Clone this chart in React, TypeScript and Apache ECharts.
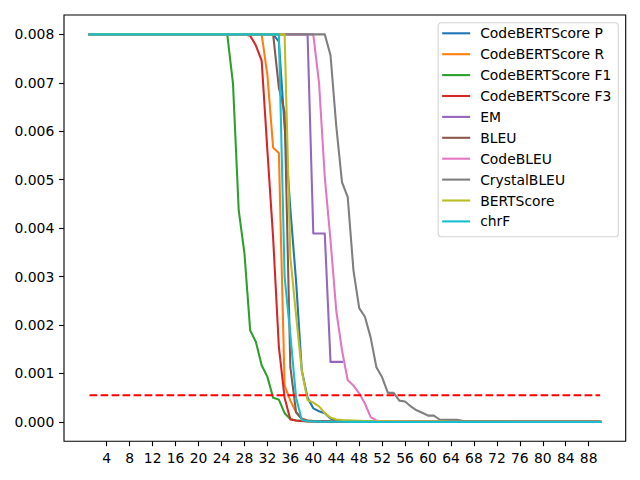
import React, { useEffect, useRef } from "react";
import * as echarts from "echarts";

const SERIES_NAMES = [
  "CodeBERTScore P",
  "CodeBERTScore R",
  "CodeBERTScore F1",
  "CodeBERTScore F3",
  "EM",
  "BLEU",
  "CodeBLEU",
  "CrystalBLEU",
  "BERTScore",
  "chrF",
];

const COLORS = [
  "#1f77b4", "#ff7f0e", "#2ca02c", "#d62728", "#9467bd",
  "#8c564b", "#e377c2", "#7f7f7f", "#bcbd22", "#17becf",
];

const X_TICKS = [4, 8, 12, 16, 20, 24, 28, 32, 36, 40, 44, 48, 52, 56, 60, 64, 68, 72, 76, 80, 84, 88];
const Y_TICKS = [0, 0.001, 0.002, 0.003, 0.004, 0.005, 0.006, 0.007, 0.008];
const THRESHOLD = 0.00055;

// values for x = 1, 2, 3, ...
const CODEBERT_P = [
  0.008, 0.008, 0.008, 0.008, 0.008, 0.008, 0.008, 0.008, 0.008, 0.008,
  0.008, 0.008, 0.008, 0.008, 0.008, 0.008, 0.008, 0.008, 0.008, 0.008,
  0.008, 0.008, 0.008, 0.008, 0.008, 0.008, 0.008, 0.008, 0.008, 0.008,
  0.008, 0.008, 0.008, 0.00785, 0.0061, 0.0044, 0.0029, 0.00106, 0.0005, 0.00028,
  0.00022, 0.00018, 0.00007, 0.00003, 0.00002, 0.000015, 0.000012, 0.00001, 0.00001, 0.000008,
  0.000007, 0.000006, 0.000005, 0.000005, 0.000004, 0.000004, 0.000003, 0.000003, 0.000003, 0.000002,
  0.000002, 0.000002, 0.000002, 0.000002, 0.000002, 0.000002, 0.000002, 0.000001, 0.000001, 0.000001,
  0.000001, 0.000001, 0.000001, 0.000001, 0.000001, 0.000001, 0.000001, 0.000001, 0.000001, 0.000001,
  0.000001, 0.000001, 0.000001, 0.000001, 0.000001, 0.000001, 0.000001, 0.000001, 0.000001, 0.000001,
];

const CODEBERT_R = [
  0.008, 0.008, 0.008, 0.008, 0.008, 0.008, 0.008, 0.008, 0.008, 0.008,
  0.008, 0.008, 0.008, 0.008, 0.008, 0.008, 0.008, 0.008, 0.008, 0.008,
  0.008, 0.008, 0.008, 0.008, 0.008, 0.008, 0.008, 0.008, 0.008, 0.008,
  0.008, 0.00716, 0.00566, 0.00555, 0.00075, 0.00044, 0.0002, 0.00007, 0.00003, 0.00002,
  0.000015, 0.000012, 0.00001, 0.000008, 0.000007, 0.000006, 0.000005, 0.000005, 0.000004, 0.000004,
  0.000003, 0.000003, 0.000003, 0.000003, 0.000003, 0.000002, 0.000002, 0.000002, 0.000002, 0.000002,
  0.000001, 0.000001, 0.000001, 0.000001, 0.000001, 0.000001, 0.000001, 0.000001, 0.000001, 0.000001,
  0.000001, 0.000001, 0.000001, 0.000001, 0.000001, 0.000001, 0.000001, 0.000001, 0.000001, 0.000001,
  0.000001, 0.000001, 0.000001, 0.000001, 0.000001, 0.000001, 0.000001, 0.000001, 0.000001, 0.000001,
];

const CODEBERT_F1 = [
  0.008, 0.008, 0.008, 0.008, 0.008, 0.008, 0.008, 0.008, 0.008, 0.008,
  0.008, 0.008, 0.008, 0.008, 0.008, 0.008, 0.008, 0.008, 0.008, 0.008,
  0.008, 0.008, 0.008, 0.008, 0.008, 0.00699, 0.00437, 0.00348, 0.00189, 0.00165,
  0.00117, 0.00093, 0.0005, 0.00046, 0.00018, 0.00006, 0.00003, 0.00002, 0.00001, 0.000008,
  0.000006, 0.000005, 0.000004, 0.000004, 0.000003, 0.000003, 0.000003, 0.000002, 0.000002, 0.000002,
  0.000002, 0.000002, 0.000001, 0.000001, 0.000001, 0.000001, 0.000001, 0.000001, 0.000001, 0.000001,
  0.000001, 0.000001, 0.000001, 0.000001, 0.000001, 0.000001, 0.000001, 0.000001, 0.000001, 0.000001,
  0.000001, 0.000001, 0.000001, 0.000001, 0.000001, 0.000001, 0.000001, 0.000001, 0.000001, 0.000001,
  0.000001, 0.000001, 0.000001, 0.000001, 0.000001, 0.000001, 0.000001, 0.000001, 0.000001, 0.000001,
];

const CODEBERT_F3 = [
  0.008, 0.008, 0.008, 0.008, 0.008, 0.008, 0.008, 0.008, 0.008, 0.008,
  0.008, 0.008, 0.008, 0.008, 0.008, 0.008, 0.008, 0.008, 0.008, 0.008,
  0.008, 0.008, 0.008, 0.008, 0.008, 0.008, 0.008, 0.008, 0.00797, 0.00777,
  0.00746, 0.0056, 0.0038, 0.00155, 0.0005, 0.00005, 0.00003, 0.00002, 0.000015, 0.00001,
  0.000008, 0.000006, 0.000005, 0.000004, 0.000004, 0.000003, 0.000003, 0.000003, 0.000002, 0.000002,
  0.000002, 0.000002, 0.000002, 0.000001, 0.000001, 0.000001, 0.000001, 0.000001, 0.000001, 0.000001,
  0.000001, 0.000001, 0.000001, 0.000001, 0.000001, 0.000001, 0.000001, 0.000001, 0.000001, 0.000001,
  0.000001, 0.000001, 0.000001, 0.000001, 0.000001, 0.000001, 0.000001, 0.000001, 0.000001, 0.000001,
  0.000001, 0.000001, 0.000001, 0.000001, 0.000001, 0.000001, 0.000001, 0.000001, 0.000001, 0.000001,
];

const EM = [
  0.008, 0.008, 0.008, 0.008, 0.008, 0.008, 0.008, 0.008, 0.008, 0.008,
  0.008, 0.008, 0.008, 0.008, 0.008, 0.008, 0.008, 0.008, 0.008, 0.008,
  0.008, 0.008, 0.008, 0.008, 0.008, 0.008, 0.008, 0.008, 0.008, 0.008,
  0.008, 0.008, 0.008, 0.008, 0.008, 0.008, 0.008, 0.008, 0.008, 0.00389,
  0.00389, 0.00389, 0.00124, 0.00124, 0.00124,
];

const BLEU = [
  0.008, 0.008, 0.008, 0.008, 0.008, 0.008, 0.008, 0.008, 0.008, 0.008,
  0.008, 0.008, 0.008, 0.008, 0.008, 0.008, 0.008, 0.008, 0.008, 0.008,
  0.008, 0.008, 0.008, 0.008, 0.008, 0.008, 0.008, 0.008, 0.008, 0.008,
  0.008, 0.008, 0.008, 0.0069, 0.0064, 0.00113, 0.0002, 0.00006, 0.00003, 0.00002,
  0.000015, 0.000012, 0.00001, 0.000008, 0.000007, 0.000006, 0.000005, 0.000004, 0.000004, 0.000003,
  0.000003, 0.000003, 0.000002, 0.000002, 0.000002, 0.000002, 0.000002, 0.000001, 0.000001, 0.000001,
  0.000001, 0.000001, 0.000001, 0.000001, 0.000001, 0.000001, 0.000001, 0.000001, 0.000001, 0.000001,
  0.000001, 0.000001, 0.000001, 0.000001, 0.000001, 0.000001, 0.000001, 0.000001, 0.000001, 0.000001,
  0.000001, 0.000001, 0.000001, 0.000001, 0.000001, 0.000001, 0.000001, 0.000001, 0.000001, 0.000001,
];

const CODEBLEU = [
  0.008, 0.008, 0.008, 0.008, 0.008, 0.008, 0.008, 0.008, 0.008, 0.008,
  0.008, 0.008, 0.008, 0.008, 0.008, 0.008, 0.008, 0.008, 0.008, 0.008,
  0.008, 0.008, 0.008, 0.008, 0.008, 0.008, 0.008, 0.008, 0.008, 0.008,
  0.008, 0.008, 0.008, 0.008, 0.008, 0.008, 0.008, 0.008, 0.008, 0.008,
  0.007, 0.00506, 0.00375, 0.0023, 0.00148, 0.00086, 0.00075, 0.00059, 0.00038, 0.0001,
  0.00003, 0.000015, 0.00001, 0.000008, 0.000007, 0.000006, 0.000005, 0.000005, 0.000004, 0.000004,
  0.000003, 0.000003, 0.000003, 0.000002, 0.000002, 0.000002, 0.000002, 0.000002, 0.000002, 0.000002,
  0.000001, 0.000001, 0.000001, 0.000001, 0.000001, 0.000001, 0.000001, 0.000001, 0.000001, 0.000001,
  0.000001, 0.000001, 0.000001, 0.000001, 0.000001, 0.000001, 0.000001, 0.000001, 0.000001, 0.000001,
];

const CRYSTALBLEU = [
  0.008, 0.008, 0.008, 0.008, 0.008, 0.008, 0.008, 0.008, 0.008, 0.008,
  0.008, 0.008, 0.008, 0.008, 0.008, 0.008, 0.008, 0.008, 0.008, 0.008,
  0.008, 0.008, 0.008, 0.008, 0.008, 0.008, 0.008, 0.008, 0.008, 0.008,
  0.008, 0.008, 0.008, 0.008, 0.008, 0.008, 0.008, 0.008, 0.008, 0.008,
  0.008, 0.008, 0.00757, 0.00611, 0.00495, 0.00464, 0.00313, 0.00235, 0.00217, 0.00174,
  0.00113, 0.00092, 0.0006, 0.0006, 0.00044, 0.00042, 0.00032, 0.00024, 0.00019, 0.00013,
  0.00013, 0.00005, 0.000045, 0.000045, 0.000045, 0.000025, 0.00002, 0.000015, 0.000013, 0.000012,
  0.000012, 0.000012, 0.000011, 0.000011, 0.00001, 0.00001, 0.00001, 0.000009, 0.000009, 0.000009,
  0.000008, 0.000008, 0.000008, 0.000007, 0.000007, 0.000007, 0.000006, 0.000006, 0.000006, 0.000005,
];

const BERTSCORE = [
  0.008, 0.008, 0.008, 0.008, 0.008, 0.008, 0.008, 0.008, 0.008, 0.008,
  0.008, 0.008, 0.008, 0.008, 0.008, 0.008, 0.008, 0.008, 0.008, 0.008,
  0.008, 0.008, 0.008, 0.008, 0.008, 0.008, 0.008, 0.008, 0.008, 0.008,
  0.008, 0.008, 0.008, 0.008, 0.008, 0.0034, 0.0022, 0.00105, 0.00045, 0.0004,
  0.00032, 0.00018, 0.00009, 0.00005, 0.00004, 0.000035, 0.00003, 0.000025, 0.00002, 0.00002,
  0.000015, 0.000014, 0.000012, 0.000011, 0.00001, 0.00001, 0.000009, 0.000008, 0.000008, 0.000007,
  0.000007, 0.000006, 0.000006, 0.000005, 0.000005, 0.000005, 0.000004, 0.000004, 0.000004, 0.000003,
  0.000003, 0.000003, 0.000003, 0.000003, 0.000002, 0.000002, 0.000002, 0.000002, 0.000002, 0.000002,
  0.000002, 0.000002, 0.000001, 0.000001, 0.000001, 0.000001, 0.000001, 0.000001, 0.000001, 0.000001,
];

const CHRF = [
  0.008, 0.008, 0.008, 0.008, 0.008, 0.008, 0.008, 0.008, 0.008, 0.008,
  0.008, 0.008, 0.008, 0.008, 0.008, 0.008, 0.008, 0.008, 0.008, 0.008,
  0.008, 0.008, 0.008, 0.008, 0.008, 0.008, 0.008, 0.008, 0.008, 0.008,
  0.008, 0.008, 0.008, 0.008, 0.003, 0.0018, 0.0005, 0.00004, 0.00002, 0.00001,
  0.000006, 0.000004, 0.000003, 0.000002, 0.000002, 0.000001, 0.000001, 0.000001, 0.000001, 0.000001,
  0, 0, 0, 0, 0, 0, 0, 0, 0, 0,
  0, 0, 0, 0, 0, 0, 0, 0, 0, 0,
  0, 0, 0, 0, 0, 0, 0, 0, 0, 0,
  0, 0, 0, 0, 0, 0, 0, 0, 0, 0,
];

const ALL_SERIES = [
  CODEBERT_P, CODEBERT_R, CODEBERT_F1, CODEBERT_F3, EM,
  BLEU, CODEBLEU, CRYSTALBLEU, BERTSCORE, CHRF,
];

const FONT = "DejaVu Sans";

export default function App() {
  const ref = useRef<HTMLDivElement>(null);

  useEffect(() => {
    if (!ref.current) return;
    const chart = echarts.init(ref.current, null, { renderer: "svg" });
    const lastX = CODEBERT_P.length;

    const series: any[] = ALL_SERIES.map((vals, k) => ({
      name: SERIES_NAMES[k],
      type: "line",
      data: vals.map((v, i) => [i + 1, v]),
      symbol: "none",
      showSymbol: false,
      silent: true,
      color: COLORS[k],
      lineStyle: { width: 2.08, color: COLORS[k], cap: "square", join: "round" },
      emphasis: { disabled: true },
    }));

    series.push({
      name: "threshold",
      type: "line",
      data: [
        [1, THRESHOLD],
        [lastX, THRESHOLD],
      ],
      symbol: "none",
      showSymbol: false,
      silent: true,
      lineStyle: { width: 2.08, color: "#ff0000", type: [7.7, 3.3] },
      emphasis: { disabled: true },
    });

    chart.setOption({
      animation: false,
      backgroundColor: "#ffffff",
      grid: {
        left: 64,
        right: 14.3,
        top: 15,
        bottom: 38.7,
        show: true,
        borderColor: "#000000",
        borderWidth: 1.1,
        backgroundColor: "transparent",
        containLabel: false,
      },
      xAxis: {
        type: "value",
        position: "bottom",
        min: -3.45,
        max: 94.45,
        splitLine: { show: false },
        axisLine: { show: false, onZero: false },
        axisTick: {
          show: true,
          inside: false,
          length: 4.9,
          lineStyle: { color: "#000000", width: 1.1 },
          customValues: X_TICKS,
        },
        axisLabel: {
          customValues: X_TICKS,
          margin: 9.7,
          color: "#000000",
          fontSize: 13.9,
          fontFamily: FONT,
        },
      },
      yAxis: {
        type: "value",
        position: "left",
        min: -0.0004,
        max: 0.0084,
        splitLine: { show: false },
        axisLine: { show: false, onZero: false },
        axisTick: {
          show: true,
          inside: false,
          length: 4.9,
          lineStyle: { color: "#000000", width: 1.1 },
          customValues: Y_TICKS,
        },
        axisLabel: {
          customValues: Y_TICKS,
          margin: 9.7,
          color: "#000000",
          fontSize: 13.9,
          fontFamily: FONT,
          formatter: (v: number) => v.toFixed(3),
        },
      },
      legend: {
        data: SERIES_NAMES,
        orient: "vertical",
        right: 21.7,
        top: 22.7,
        icon: "rect",
        itemWidth: 28,
        itemHeight: 2.1,
        itemGap: 4.9,
        padding: [2.6, 7, 7.3, 4],
        selectedMode: false,
        borderColor: "#d4d4d4",
        borderWidth: 1.1,
        borderRadius: 3,
        backgroundColor: "rgba(255,255,255,0.8)",
        textStyle: {
          fontFamily: FONT,
          fontSize: 13.9,
          lineHeight: 16,
          color: "#000000",
          padding: [0, 0, 0, 5],
        },
      },
      series,
    });

    return () => {
      chart.dispose();
    };
  }, []);

  return (
    <div
      ref={ref}
      style={{ position: "fixed", left: 0, top: 0, width: 640, height: 480, background: "#fff" }}
    />
  );
}
